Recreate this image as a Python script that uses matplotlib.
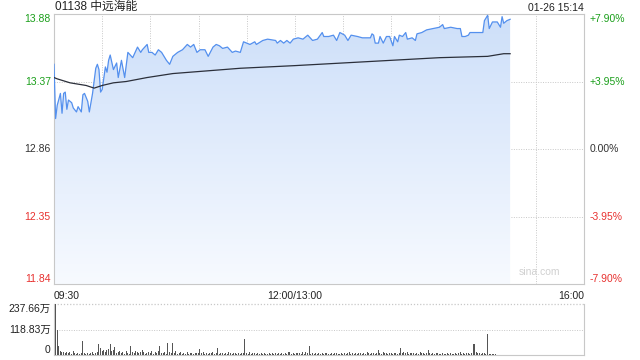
import numpy as np
import matplotlib
matplotlib.use("Agg")
import matplotlib.pyplot as plt
from matplotlib.colors import LinearSegmentedColormap

plt.rcParams['font.family'] = ['Liberation Sans', 'Noto Sans CJK SC', 'DejaVu Sans']

# ---- data (minutes after 09:30, lunch break removed) ----
prev_close = 12.86
price_min = [0, 1, 2, 4, 5, 6, 7, 8, 9, 11, 12, 14, 15, 17, 18, 19, 21, 22, 24, 26,
             27, 28, 29, 30, 32, 33, 34, 35, 37, 39, 40, 42, 44, 46, 49, 52, 54, 55, 58, 59,
             61, 63, 65, 67, 70, 72, 74, 77, 80, 83, 85, 87, 89, 91, 94, 96, 99, 101, 103, 105,
             108, 111, 113, 116, 118, 120, 122, 125, 126, 130, 133, 138, 139, 141, 143, 145, 147, 149, 152, 155,
             158, 161, 164, 167, 168, 171, 174, 176, 178, 181, 183, 185, 189, 192, 197, 198, 199, 200, 202, 203,
             205, 207, 209, 211, 212, 214, 215, 217, 219, 220, 223, 225, 226, 229, 232, 236, 240, 242, 243, 247,
             251, 253, 254, 256, 258, 259, 261, 264, 267, 268, 270, 271, 273, 275, 276, 278, 279, 280, 282, 284]
price = [13.50, 13.09, 13.19, 13.28, 13.13, 13.28, 13.29, 13.16, 13.23, 13.21, 13.17, 13.14, 13.18, 13.14, 13.27, 13.28, 13.22, 13.14, 13.28, 13.47,
         13.50, 13.46, 13.29, 13.31, 13.48, 13.44, 13.53, 13.57, 13.46, 13.51, 13.40, 13.53, 13.40, 13.59, 13.55, 13.63, 13.59, 13.61, 13.65, 13.59,
         13.59, 13.57, 13.61, 13.59, 13.53, 13.50, 13.56, 13.59, 13.61, 13.65, 13.63, 13.65, 13.59, 13.61, 13.61, 13.56, 13.63, 13.65, 13.64, 13.62,
         13.63, 13.59, 13.60, 13.59, 13.67, 13.66, 13.65, 13.67, 13.65, 13.68, 13.69, 13.68, 13.66, 13.68, 13.66, 13.68, 13.66, 13.69, 13.70, 13.69,
         13.72, 13.68, 13.69, 13.74, 13.71, 13.71, 13.72, 13.68, 13.74, 13.72, 13.68, 13.72, 13.71, 13.70, 13.70, 13.73, 13.72, 13.66, 13.66, 13.71,
         13.66, 13.71, 13.71, 13.64, 13.71, 13.67, 13.72, 13.71, 13.74, 13.69, 13.70, 13.68, 13.73, 13.74, 13.76, 13.77, 13.78, 13.80, 13.77, 13.78,
         13.77, 13.77, 13.71, 13.71, 13.72, 13.74, 13.74, 13.74, 13.74, 13.83, 13.87, 13.77, 13.82, 13.82, 13.82, 13.78, 13.86, 13.81, 13.83, 13.84]

avg_min = [0, 2, 10, 20, 25, 30, 37, 45, 58, 74, 95, 116, 150, 180, 240, 270, 280, 284]
avg_price = [13.40, 13.39, 13.36, 13.34, 13.32, 13.34, 13.36, 13.37, 13.40, 13.43, 13.45, 13.47, 13.49, 13.51, 13.55, 13.56, 13.58, 13.58]

# volume per minute, in 万
volume = [237.66, 115, 42, 18, 12, 15, 10, 14, 8, 12, 6, 20, 9, 5, 7, 4, 10, 65, 8, 6,
          10, 4, 7, 12, 5, 9, 14, 51, 32, 20, 25, 12, 22, 30, 51, 18, 25, 38, 10, 14,
          20, 8, 12, 6, 18, 10, 5, 42, 15, 9, 20, 12, 8, 14, 22, 16, 6, 10, 15, 8,
          20, 5, 12, 9, 18, 42, 7, 10, 14, 6, 56, 12, 9, 55, 10, 20, 6, 8, 14, 5,
          9, 6, 12, 4, 8, 10, 5, 7, 9, 11, 28, 8, 14, 6, 10, 5, 9, 7, 12, 6,
          8, 32, 5, 10, 7, 4, 9, 6, 12, 8, 5, 7, 10, 6, 9, 4, 8, 11, 75, 9,
          6, 12, 5, 8, 10, 4, 7, 6, 9, 5, 8, 6, 4, 7, 5, 9, 6, 8, 5, 7,
          6, 10, 5, 8, 4, 12, 15, 6, 9, 5, 7, 8, 10, 6, 15, 5, 12, 8, 42, 6,
          9, 5, 7, 4, 8, 6, 10, 5, 7, 9, 4, 6, 8, 5, 7, 10, 6, 4, 9, 5,
          8, 6, 7, 12, 5, 9, 6, 8, 4, 10, 7, 5, 9, 6, 12, 8, 5, 10, 7, 6,
          9, 23, 8, 5, 12, 7, 10, 6, 9, 8, 5, 11, 7, 6, 10, 32, 9, 14, 8, 12,
          6, 10, 7, 9, 5, 8, 6, 12, 7, 10, 5, 9, 23, 8, 6, 10, 5, 7, 9, 6,
          4, 8, 5, 6, 7, 4, 9, 5, 6, 8, 5, 7, 12, 6, 9, 5, 7, 8, 6, 10,
          51, 51, 15, 8, 10, 6, 9, 7, 5, 98, 6, 4, 5, 3, 4]

y_ticks = [13.88, 13.37, 12.86, 12.35, 11.84]
pct_labels = ['+7.90%', '+3.95%', '0.00%', '-3.95%', '-7.90%']
vol_ticks = [237.66, 118.83, 0]
vol_labels = ['237.66万', '118.83万', '0']

GREEN = '#1a9f1a'
RED = '#e8312f'
DARK = '#333333'
GRID = '#c8c8c8'

fig = plt.figure(figsize=(6.4, 3.6), dpi=100)
ax = fig.add_axes([54 / 640, 1 - 284 / 360, 530 / 640, 270 / 360])
axv = fig.add_axes([54 / 640, 1 - 355 / 360, 530 / 640, 51 / 360])

ymin, ymax = y_ticks[-1], y_ticks[0]
ax.set_xlim(0, 330)
ax.set_ylim(ymin, ymax)

# gradient fill under price line
cmap = LinearSegmentedColormap.from_list('fill', ['#f7faff', '#cddff9'])
grad = np.linspace(0, 1, 256).reshape(-1, 1)
img = ax.imshow(grad, cmap=cmap, origin='lower', aspect='auto',
                extent=[0, price_min[-1], ymin, ymax], zorder=1)
poly = ax.fill_between(price_min, price, ymin, color='none', lw=0)
img.set_clip_path(poly.get_paths()[0], transform=ax.transData)

ax.plot(price_min, price, color='#5490ee', lw=0.9, zorder=3)
ax.plot(avg_min, avg_price, color='#2b2f3a', lw=0.9, zorder=3)

# grid
for m in range(30, 330, 30):
    ax.axvline(m, color=GRID, lw=0.7, ls=(0, (1, 1.5)), zorder=0)
for v in y_ticks[1:-1]:
    ax.axhline(v, color=GRID, lw=0.7, ls=(0, (1, 1.5)), zorder=0)

for s in ax.spines.values():
    s.set_color(GRID)
    s.set_linewidth(0.8)
ax.set_xticks([])
ax.set_yticks([])

# price labels
tcol = [GREEN, GREEN, DARK, RED, RED]
vas = ['top', 'center', 'center', 'center', 'bottom']
for v, lab, c, va in zip(y_ticks, pct_labels, tcol, vas):
    ax.text(-0.006, v, f'{v:.2f}', transform=ax.get_yaxis_transform(), ha='right', va=va,
            color=c, fontsize=7.5)
    ax.text(1.011, v, lab, transform=ax.get_yaxis_transform(), ha='left', va=va,
            color=c, fontsize=7.5)

# time labels
ax.text(0, -0.025, '09:30', transform=ax.get_xaxis_transform(), ha='left', va='top',
        fontsize=7.5, color='#222222')
ax.text(150, -0.025, '12:00/13:00', transform=ax.get_xaxis_transform(), ha='center', va='top',
        fontsize=7.5, color='#222222')
ax.text(330, -0.025, '16:00', transform=ax.get_xaxis_transform(), ha='right', va='top',
        fontsize=7.5, color='#222222')

fig.text(55 / 640, 1 - 13 / 360, '01138 中远海能', ha='left', va='bottom',
         fontsize=8.5, color='#222222')
fig.text(584 / 640, 1 - 13 / 360, '01-26 15:14', ha='right', va='bottom',
         fontsize=7.5, color='#222222')
ax.text(0.955, 0.025, 'sina.com', transform=ax.transAxes, ha='right', va='bottom',
        fontsize=7.5, color='#d0d0d0')

# volume panel
axv.bar(np.arange(len(volume)) + 0.9, volume, width=0.62, color='#555555',
        antialiased=False, zorder=3)
axv.set_xlim(0, 330)
axv.set_ylim(0, vol_ticks[0])
axv.axhline(vol_ticks[1], color=GRID, lw=0.7, ls=(0, (1, 1.5)), zorder=0)
axv.axhline(vol_ticks[0], color=GRID, lw=0.9, ls=(0, (1, 1.5)), zorder=0, clip_on=False)
axv.spines['top'].set_visible(False)
for k in ['left', 'right', 'bottom']:
    axv.spines[k].set_color(GRID)
    axv.spines[k].set_linewidth(0.8)
axv.set_xticks([])
axv.set_yticks([])
for v, lab, va in zip(vol_ticks, vol_labels, ['top', 'center', 'bottom']):
    axv.text(-0.006, v, lab, transform=axv.get_yaxis_transform(), ha='right', va=va,
             fontsize=7.5, color='#222222')

fig.savefig('out.png', dpi=100)
